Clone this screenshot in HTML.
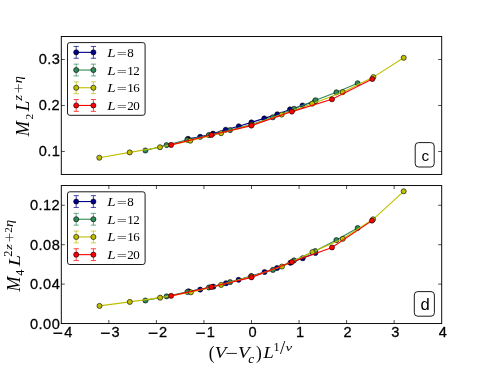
<!DOCTYPE html>
<html><head><meta charset="utf-8"><title>chart</title><style>html,body{margin:0;padding:0;background:#fff;}svg{display:block;will-change:transform;}</style></head><body>
<svg width="491" height="368" viewBox="0 0 491 368">
<rect width="491" height="368" fill="#fff"/>
<g fill="#00008b" stroke="#000" stroke-width="0.6">
<polyline fill="none" stroke="#00008b" stroke-width="1.1" points="188,138.8 200.2,136.8 213,133.6 225.7,129.7 238.8,126.3 251.45,122.4 264.3,118.4 277.3,114.3 290,109.4 302.5,105.5 315,101.3"/>
<circle cx="188" cy="138.8" r="2.55"/>
<circle cx="200.2" cy="136.8" r="2.55"/>
<circle cx="213" cy="133.6" r="2.55"/>
<circle cx="225.7" cy="129.7" r="2.55"/>
<circle cx="238.8" cy="126.3" r="2.55"/>
<circle cx="251.45" cy="122.4" r="2.55"/>
<circle cx="264.3" cy="118.4" r="2.55"/>
<circle cx="277.3" cy="114.3" r="2.55"/>
<circle cx="290" cy="109.4" r="2.55"/>
<circle cx="302.5" cy="105.5" r="2.55"/>
<circle cx="315" cy="101.3" r="2.55"/>
</g>
<g fill="#2e8b57" stroke="#000" stroke-width="0.6">
<polyline fill="none" stroke="#2e8b57" stroke-width="1.1" points="145.4,150.5 166.6,145.1 187.3,139.8 208.9,135 230.1,130.1 251.6,124.6 272.8,117.3 294,108.8 315.55,100.2 336.4,92.3 357.65,83.25"/>
<circle cx="145.4" cy="150.5" r="2.55"/>
<circle cx="166.6" cy="145.1" r="2.55"/>
<circle cx="187.3" cy="139.8" r="2.55"/>
<circle cx="208.9" cy="135" r="2.55"/>
<circle cx="230.1" cy="130.1" r="2.55"/>
<circle cx="251.6" cy="124.6" r="2.55"/>
<circle cx="272.8" cy="117.3" r="2.55"/>
<circle cx="294" cy="108.8" r="2.55"/>
<circle cx="315.55" cy="100.2" r="2.55"/>
<circle cx="336.4" cy="92.3" r="2.55"/>
<circle cx="357.65" cy="83.25" r="2.55"/>
</g>
<g fill="#bfbf00" stroke="#000" stroke-width="0.6">
<polyline fill="none" stroke="#bfbf00" stroke-width="1.1" points="99.3,157.7 129.7,152.4 160,147.2 190.3,140.7 221.1,133.2 251.6,124.9 281.7,114.6 312.2,103.65 342.7,92.15 373.4,77.1 403.7,57.8"/>
<circle cx="99.3" cy="157.7" r="2.55"/>
<circle cx="129.7" cy="152.4" r="2.55"/>
<circle cx="160" cy="147.2" r="2.55"/>
<circle cx="190.3" cy="140.7" r="2.55"/>
<circle cx="221.1" cy="133.2" r="2.55"/>
<circle cx="251.6" cy="124.9" r="2.55"/>
<circle cx="281.7" cy="114.6" r="2.55"/>
<circle cx="312.2" cy="103.65" r="2.55"/>
<circle cx="342.7" cy="92.15" r="2.55"/>
<circle cx="373.4" cy="77.1" r="2.55"/>
<circle cx="403.7" cy="57.8" r="2.55"/>
</g>
<g fill="#ff0000" stroke="#000" stroke-width="0.6">
<polyline fill="none" stroke="#ff0000" stroke-width="1.1" points="171.1,144.9 211.3,135 251.3,125.6 291.85,111.6 332,99.3 372.3,79"/>
<circle cx="171.1" cy="144.9" r="2.55"/>
<circle cx="211.3" cy="135" r="2.55"/>
<circle cx="251.3" cy="125.6" r="2.55"/>
<circle cx="291.85" cy="111.6" r="2.55"/>
<circle cx="332" cy="99.3" r="2.55"/>
<circle cx="372.3" cy="79" r="2.55"/>
</g>
<rect x="61.3" y="36.5" width="380.4" height="137.95" fill="none" stroke="#000" stroke-width="0.95"/>
<text x="42.379 51.812 56.632" transform="matrix(0.9125 0 0 0.9125 0 156.41)" font-family="Liberation Sans, sans-serif" font-size="16" stroke="#000" stroke-width="0.29">0.1</text>
<text x="42.379 51.812 56.407" transform="matrix(0.9125 0 0 0.9125 0 110.42)" font-family="Liberation Sans, sans-serif" font-size="16" stroke="#000" stroke-width="0.29">0.2</text>
<text x="42.379 51.812 56.649" transform="matrix(0.9125 0 0 0.9125 0 64.44)" font-family="Liberation Sans, sans-serif" font-size="16" stroke="#000" stroke-width="0.29">0.3</text>
<path d="M61.3 151.46h3.5M441.7 151.46h-3.5M61.3 105.47h3.5M441.7 105.47h-3.5M61.3 59.49h3.5M441.7 59.49h-3.5" stroke="#000" stroke-width="0.7" fill="none"/>
<rect x="67.5" y="42.6" width="77.6" height="72.7" rx="2.3" ry="2.3" fill="#fff" stroke="#000" stroke-width="0.9"/>
<path d="M76.2 46.45V58.25M73.6 46.45h5.2M73.6 58.25h5.2M93.4 46.45V58.25M90.8 46.45h5.2M90.8 58.25h5.2" stroke="#00008b" stroke-width="0.8" stroke-opacity="0.9" fill="none"/>
<g fill="#00008b" stroke="#000" stroke-width="0.6"><line x1="76.2" y1="52.35" x2="93.4" y2="52.35" stroke="#00008b" stroke-width="1.1"/><circle cx="76.2" cy="52.35" r="2.55"/><circle cx="93.4" cy="52.35" r="2.55"/></g>
<text transform="matrix(0.9353 0 0 0.8429 107.23 56.8)" font-family="Liberation Serif, serif" font-size="16" font-style="italic">L</text>
<text transform="matrix(1.1200 0 0 0.6471 116.76 56.8)" font-family="Liberation Serif, serif" font-size="16">=</text>
<text transform="matrix(0.8125 0 0 0.8125 127.2 56.85)" font-family="Liberation Serif, serif" font-size="16">8</text>
<path d="M76.2 64.15V75.95M73.6 64.15h5.2M73.6 75.95h5.2M93.4 64.15V75.95M90.8 64.15h5.2M90.8 75.95h5.2" stroke="#2e8b57" stroke-width="0.8" stroke-opacity="0.9" fill="none"/>
<g fill="#2e8b57" stroke="#000" stroke-width="0.6"><line x1="76.2" y1="70.05" x2="93.4" y2="70.05" stroke="#2e8b57" stroke-width="1.1"/><circle cx="76.2" cy="70.05" r="2.55"/><circle cx="93.4" cy="70.05" r="2.55"/></g>
<text transform="matrix(0.9353 0 0 0.8429 107.23 74.5)" font-family="Liberation Serif, serif" font-size="16" font-style="italic">L</text>
<text transform="matrix(1.1200 0 0 0.6471 116.76 74.5)" font-family="Liberation Serif, serif" font-size="16">=</text>
<text transform="matrix(0.8125 0 0 0.8125 127.2 74.55)" font-family="Liberation Serif, serif" font-size="16">1</text>
<text transform="matrix(0.8125 0 0 0.8125 133.2 74.55)" font-family="Liberation Serif, serif" font-size="16">2</text>
<path d="M76.2 81.85V93.65M73.6 81.85h5.2M73.6 93.65h5.2M93.4 81.85V93.65M90.8 81.85h5.2M90.8 93.65h5.2" stroke="#bfbf00" stroke-width="0.8" stroke-opacity="0.9" fill="none"/>
<g fill="#bfbf00" stroke="#000" stroke-width="0.6"><line x1="76.2" y1="87.75" x2="93.4" y2="87.75" stroke="#bfbf00" stroke-width="1.1"/><circle cx="76.2" cy="87.75" r="2.55"/><circle cx="93.4" cy="87.75" r="2.55"/></g>
<text transform="matrix(0.9353 0 0 0.8429 107.23 92.2)" font-family="Liberation Serif, serif" font-size="16" font-style="italic">L</text>
<text transform="matrix(1.1200 0 0 0.6471 116.76 92.2)" font-family="Liberation Serif, serif" font-size="16">=</text>
<text transform="matrix(0.8125 0 0 0.8125 127.2 92.25)" font-family="Liberation Serif, serif" font-size="16">1</text>
<text transform="matrix(0.8125 0 0 0.8125 133.2 92.25)" font-family="Liberation Serif, serif" font-size="16">6</text>
<path d="M76.2 99.55V111.35M73.6 99.55h5.2M73.6 111.35h5.2M93.4 99.55V111.35M90.8 99.55h5.2M90.8 111.35h5.2" stroke="#ff0000" stroke-width="0.8" stroke-opacity="0.9" fill="none"/>
<g fill="#ff0000" stroke="#000" stroke-width="0.6"><line x1="76.2" y1="105.45" x2="93.4" y2="105.45" stroke="#ff0000" stroke-width="1.1"/><circle cx="76.2" cy="105.45" r="2.55"/><circle cx="93.4" cy="105.45" r="2.55"/></g>
<text transform="matrix(0.9353 0 0 0.8429 107.23 109.9)" font-family="Liberation Serif, serif" font-size="16" font-style="italic">L</text>
<text transform="matrix(1.1200 0 0 0.6471 116.76 109.9)" font-family="Liberation Serif, serif" font-size="16">=</text>
<text transform="matrix(0.8125 0 0 0.8125 127.2 109.95)" font-family="Liberation Serif, serif" font-size="16">2</text>
<text transform="matrix(0.8125 0 0 0.8125 133.2 109.95)" font-family="Liberation Serif, serif" font-size="16">0</text>
<g fill="#00008b" stroke="#000" stroke-width="0.6">
<polyline fill="none" stroke="#00008b" stroke-width="1.1" points="188.6,291.3 200.2,289.6 213.4,286.6 225.95,283.25 238.55,279.8 251.2,276.1 264.55,272 277.05,268 290.4,262.8 302.7,258.25 315.4,252.9"/>
<circle cx="188.6" cy="291.3" r="2.55"/>
<circle cx="200.2" cy="289.6" r="2.55"/>
<circle cx="213.4" cy="286.6" r="2.55"/>
<circle cx="225.95" cy="283.25" r="2.55"/>
<circle cx="238.55" cy="279.8" r="2.55"/>
<circle cx="251.2" cy="276.1" r="2.55"/>
<circle cx="264.55" cy="272" r="2.55"/>
<circle cx="277.05" cy="268" r="2.55"/>
<circle cx="290.4" cy="262.8" r="2.55"/>
<circle cx="302.7" cy="258.25" r="2.55"/>
<circle cx="315.4" cy="252.9" r="2.55"/>
</g>
<g fill="#2e8b57" stroke="#000" stroke-width="0.6">
<polyline fill="none" stroke="#2e8b57" stroke-width="1.1" points="145.4,300.5 166.6,296.35 187.4,291.9 208.9,287.5 230.1,282.1 251.6,276.7 272.9,269.9 294,260.4 315.3,251.05 336.4,240.1 357.65,228"/>
<circle cx="145.4" cy="300.5" r="2.55"/>
<circle cx="166.6" cy="296.35" r="2.55"/>
<circle cx="187.4" cy="291.9" r="2.55"/>
<circle cx="208.9" cy="287.5" r="2.55"/>
<circle cx="230.1" cy="282.1" r="2.55"/>
<circle cx="251.6" cy="276.7" r="2.55"/>
<circle cx="272.9" cy="269.9" r="2.55"/>
<circle cx="294" cy="260.4" r="2.55"/>
<circle cx="315.3" cy="251.05" r="2.55"/>
<circle cx="336.4" cy="240.1" r="2.55"/>
<circle cx="357.65" cy="228" r="2.55"/>
</g>
<g fill="#bfbf00" stroke="#000" stroke-width="0.6">
<polyline fill="none" stroke="#bfbf00" stroke-width="1.1" points="99.5,305.9 129.8,301.9 160.15,297.65 190.9,292.3 221.1,284.9 251.4,276.4 281.95,266.55 312.45,252.1 342.85,238.8 373.1,219.3 403.7,191.3"/>
<circle cx="99.5" cy="305.9" r="2.55"/>
<circle cx="129.8" cy="301.9" r="2.55"/>
<circle cx="160.15" cy="297.65" r="2.55"/>
<circle cx="190.9" cy="292.3" r="2.55"/>
<circle cx="221.1" cy="284.9" r="2.55"/>
<circle cx="251.4" cy="276.4" r="2.55"/>
<circle cx="281.95" cy="266.55" r="2.55"/>
<circle cx="312.45" cy="252.1" r="2.55"/>
<circle cx="342.85" cy="238.8" r="2.55"/>
<circle cx="373.1" cy="219.3" r="2.55"/>
<circle cx="403.7" cy="191.3" r="2.55"/>
</g>
<g fill="#ff0000" stroke="#000" stroke-width="0.6">
<polyline fill="none" stroke="#ff0000" stroke-width="1.1" points="171.1,295.85 211.3,287 251.45,277.35 291.85,262.05 332,247.45 372,220.6"/>
<circle cx="171.1" cy="295.85" r="2.55"/>
<circle cx="211.3" cy="287" r="2.55"/>
<circle cx="251.45" cy="277.35" r="2.55"/>
<circle cx="291.85" cy="262.05" r="2.55"/>
<circle cx="332" cy="247.45" r="2.55"/>
<circle cx="372" cy="220.6" r="2.55"/>
</g>
<rect x="61.3" y="185.55" width="380.4" height="138" fill="none" stroke="#000" stroke-width="0.95"/>
<text x="32.868 42.301 47.13 56.641" transform="matrix(0.9125 0 0 0.9125 0 328.5)" font-family="Liberation Sans, sans-serif" font-size="16" stroke="#000" stroke-width="0.29">0.00</text>
<text x="32.868 42.301 47.13 56.766" transform="matrix(0.9125 0 0 0.9125 0 289.07)" font-family="Liberation Sans, sans-serif" font-size="16" stroke="#000" stroke-width="0.29">0.04</text>
<text x="32.868 42.301 47.13 56.766" transform="matrix(0.9125 0 0 0.9125 0 249.64)" font-family="Liberation Sans, sans-serif" font-size="16" stroke="#000" stroke-width="0.29">0.08</text>
<text x="32.868 42.301 47.122 56.407" transform="matrix(0.9125 0 0 0.9125 0 210.21)" font-family="Liberation Sans, sans-serif" font-size="16" stroke="#000" stroke-width="0.29">0.12</text>
<path d="M61.3 284.12h3.5M441.7 284.12h-3.5M61.3 244.69h3.5M441.7 244.69h-3.5M61.3 205.26h3.5M441.7 205.26h-3.5" stroke="#000" stroke-width="0.7" fill="none"/>
<text transform="matrix(0.9125 0 0 0.9125 0 337.2)" font-family="Liberation Sans, sans-serif" font-size="16" stroke="#000" stroke-width="0.29"><tspan x="57.87" dy="1.763" font-size="19.152">−</tspan><tspan x="70.304" dy="-1.763">4</tspan></text>
<text transform="matrix(0.9125 0 0 0.9125 0 337.2)" font-family="Liberation Sans, sans-serif" font-size="16" stroke="#000" stroke-width="0.29"><tspan x="109.979" dy="1.763" font-size="19.152">−</tspan><tspan x="122.297" dy="-1.763">3</tspan></text>
<text transform="matrix(0.9125 0 0 0.9125 0 337.2)" font-family="Liberation Sans, sans-serif" font-size="16" stroke="#000" stroke-width="0.29"><tspan x="162.089" dy="1.763" font-size="19.152">−</tspan><tspan x="174.164" dy="-1.763">2</tspan></text>
<text transform="matrix(0.9125 0 0 0.9125 0 337.2)" font-family="Liberation Sans, sans-serif" font-size="16" stroke="#000" stroke-width="0.29"><tspan x="214.198" dy="1.763" font-size="19.152">−</tspan><tspan x="226.499" dy="-1.763">1</tspan></text>
<text x="272.355" transform="matrix(0.9125 0 0 0.9125 0 337.2)" font-family="Liberation Sans, sans-serif" font-size="16" stroke="#000" stroke-width="0.29">0</text>
<text x="324.456" transform="matrix(0.9125 0 0 0.9125 0 337.2)" font-family="Liberation Sans, sans-serif" font-size="16" stroke="#000" stroke-width="0.29">1</text>
<text x="376.34" transform="matrix(0.9125 0 0 0.9125 0 337.2)" font-family="Liberation Sans, sans-serif" font-size="16" stroke="#000" stroke-width="0.29">2</text>
<text x="428.692" transform="matrix(0.9125 0 0 0.9125 0 337.2)" font-family="Liberation Sans, sans-serif" font-size="16" stroke="#000" stroke-width="0.29">3</text>
<text x="480.918" transform="matrix(0.9125 0 0 0.9125 0 337.2)" font-family="Liberation Sans, sans-serif" font-size="16" stroke="#000" stroke-width="0.29">4</text>
<path d="M108.85 323.55v-3.5M108.85 185.55v3.5M156.4 323.55v-3.5M156.4 185.55v3.5M203.95 323.55v-3.5M203.95 185.55v3.5M251.5 323.55v-3.5M251.5 185.55v3.5M299.05 323.55v-3.5M299.05 185.55v3.5M346.6 323.55v-3.5M346.6 185.55v3.5M394.15 323.55v-3.5M394.15 185.55v3.5" stroke="#000" stroke-width="0.7" fill="none"/>
<rect x="67.5" y="191.8" width="77.6" height="72.7" rx="2.3" ry="2.3" fill="#fff" stroke="#000" stroke-width="0.9"/>
<path d="M76.2 195.65V207.45M73.6 195.65h5.2M73.6 207.45h5.2M93.4 195.65V207.45M90.8 195.65h5.2M90.8 207.45h5.2" stroke="#00008b" stroke-width="0.8" stroke-opacity="0.9" fill="none"/>
<g fill="#00008b" stroke="#000" stroke-width="0.6"><line x1="76.2" y1="201.55" x2="93.4" y2="201.55" stroke="#00008b" stroke-width="1.1"/><circle cx="76.2" cy="201.55" r="2.55"/><circle cx="93.4" cy="201.55" r="2.55"/></g>
<text transform="matrix(0.9353 0 0 0.8429 107.23 206)" font-family="Liberation Serif, serif" font-size="16" font-style="italic">L</text>
<text transform="matrix(1.1200 0 0 0.6471 116.76 206)" font-family="Liberation Serif, serif" font-size="16">=</text>
<text transform="matrix(0.8125 0 0 0.8125 127.2 206.05)" font-family="Liberation Serif, serif" font-size="16">8</text>
<path d="M76.2 213.35V225.15M73.6 213.35h5.2M73.6 225.15h5.2M93.4 213.35V225.15M90.8 213.35h5.2M90.8 225.15h5.2" stroke="#2e8b57" stroke-width="0.8" stroke-opacity="0.9" fill="none"/>
<g fill="#2e8b57" stroke="#000" stroke-width="0.6"><line x1="76.2" y1="219.25" x2="93.4" y2="219.25" stroke="#2e8b57" stroke-width="1.1"/><circle cx="76.2" cy="219.25" r="2.55"/><circle cx="93.4" cy="219.25" r="2.55"/></g>
<text transform="matrix(0.9353 0 0 0.8429 107.23 223.7)" font-family="Liberation Serif, serif" font-size="16" font-style="italic">L</text>
<text transform="matrix(1.1200 0 0 0.6471 116.76 223.7)" font-family="Liberation Serif, serif" font-size="16">=</text>
<text transform="matrix(0.8125 0 0 0.8125 127.2 223.75)" font-family="Liberation Serif, serif" font-size="16">1</text>
<text transform="matrix(0.8125 0 0 0.8125 133.2 223.75)" font-family="Liberation Serif, serif" font-size="16">2</text>
<path d="M76.2 231.05V242.85M73.6 231.05h5.2M73.6 242.85h5.2M93.4 231.05V242.85M90.8 231.05h5.2M90.8 242.85h5.2" stroke="#bfbf00" stroke-width="0.8" stroke-opacity="0.9" fill="none"/>
<g fill="#bfbf00" stroke="#000" stroke-width="0.6"><line x1="76.2" y1="236.95" x2="93.4" y2="236.95" stroke="#bfbf00" stroke-width="1.1"/><circle cx="76.2" cy="236.95" r="2.55"/><circle cx="93.4" cy="236.95" r="2.55"/></g>
<text transform="matrix(0.9353 0 0 0.8429 107.23 241.4)" font-family="Liberation Serif, serif" font-size="16" font-style="italic">L</text>
<text transform="matrix(1.1200 0 0 0.6471 116.76 241.4)" font-family="Liberation Serif, serif" font-size="16">=</text>
<text transform="matrix(0.8125 0 0 0.8125 127.2 241.45)" font-family="Liberation Serif, serif" font-size="16">1</text>
<text transform="matrix(0.8125 0 0 0.8125 133.2 241.45)" font-family="Liberation Serif, serif" font-size="16">6</text>
<path d="M76.2 248.75V260.55M73.6 248.75h5.2M73.6 260.55h5.2M93.4 248.75V260.55M90.8 248.75h5.2M90.8 260.55h5.2" stroke="#ff0000" stroke-width="0.8" stroke-opacity="0.9" fill="none"/>
<g fill="#ff0000" stroke="#000" stroke-width="0.6"><line x1="76.2" y1="254.65" x2="93.4" y2="254.65" stroke="#ff0000" stroke-width="1.1"/><circle cx="76.2" cy="254.65" r="2.55"/><circle cx="93.4" cy="254.65" r="2.55"/></g>
<text transform="matrix(0.9353 0 0 0.8429 107.23 259.1)" font-family="Liberation Serif, serif" font-size="16" font-style="italic">L</text>
<text transform="matrix(1.1200 0 0 0.6471 116.76 259.1)" font-family="Liberation Serif, serif" font-size="16">=</text>
<text transform="matrix(0.8125 0 0 0.8125 127.2 259.15)" font-family="Liberation Serif, serif" font-size="16">2</text>
<text transform="matrix(0.8125 0 0 0.8125 133.2 259.15)" font-family="Liberation Serif, serif" font-size="16">0</text>
<rect x="415.2" y="142.6" width="19" height="24.4" rx="3.4" fill="#fff" stroke="#000" stroke-width="0.9"/>
<text transform="matrix(0.9655 0 0 0.9611 421.42 160.61)" font-family="Liberation Sans, sans-serif" font-size="16">c</text>
<rect x="414.3" y="291.6" width="20.1" height="24.6" rx="3.4" fill="#fff" stroke="#000" stroke-width="0.9"/>
<text transform="matrix(1.0400 0 0 0.9917 420.58 309.85)" font-family="Liberation Sans, sans-serif" font-size="16">d</text>
<text transform="matrix(1.0889 0 0 1.1932 208.86 358.62)" font-family="Liberation Serif, serif" font-size="16">(</text>
<text transform="matrix(1.1814 0 0 1.0791 214.81 358.03)" font-family="Liberation Serif, serif" font-size="16" font-style="italic">V</text>
<text transform="matrix(1.4133 0 0 1.1000 225.14 359.17)" font-family="Liberation Serif, serif" font-size="16">−</text>
<text transform="matrix(1.1907 0 0 1.0884 238.11 358.13)" font-family="Liberation Serif, serif" font-size="16" font-style="italic">V</text>
<text transform="matrix(0.8444 0 0 0.8250 248.19 362.99)" font-family="Liberation Serif, serif" font-size="16" font-style="italic">c</text>
<text transform="matrix(1.0824 0 0 1.2000 256.06 358.7)" font-family="Liberation Serif, serif" font-size="16">)</text>
<text transform="matrix(1.1529 0 0 1.0571 263.59 358)" font-family="Liberation Serif, serif" font-size="16" font-style="italic">L</text>
<text transform="matrix(0.7667 0 0 0.7814 273.54 350.8)" font-family="Liberation Serif, serif" font-size="16">1</text>
<text transform="matrix(1.1778 0 0 1.1636 280 353.51)" font-family="Liberation Serif, serif" font-size="16">/</text>
<text transform="matrix(0.9379 0 0 0.6710 285.5 350.63)" font-family="Liberation Serif, serif" font-size="16" font-style="italic">ν</text>
<g transform="rotate(-90)">
<text transform="matrix(1.1379 0 0 1.1238 -136.32 29.1)" font-family="Liberation Serif, serif" font-size="16" font-style="italic">M</text>
<text transform="matrix(0.7111 0 0 0.6698 -119.56 32.5)" font-family="Liberation Serif, serif" font-size="16">2</text>
<text transform="matrix(1.1882 0 0 1.1238 -111.3 29.1)" font-family="Liberation Serif, serif" font-size="16" font-style="italic">L</text>
<text transform="matrix(0.9385 0 0 0.7867 -100.67 21.8)" font-family="Liberation Serif, serif" font-size="16" font-style="italic">z</text>
<text transform="matrix(1.0933 0 0 1.0065 -93.32 23.51)" font-family="Liberation Serif, serif" font-size="16" fill-opacity="0.72">+</text>
<text transform="matrix(0.9000 0 0 0.7644 -83.25 21.82)" font-family="Liberation Serif, serif" font-size="16" font-style="italic">η</text>
</g>
<g transform="rotate(-90)">
<text transform="matrix(1.1241 0 0 1.1143 -291.52 20.3)" font-family="Liberation Serif, serif" font-size="16" font-style="italic">M</text>
<text transform="matrix(0.7600 0 0 0.7163 -275.79 23.8)" font-family="Liberation Serif, serif" font-size="16">4</text>
<text transform="matrix(1.2824 0 0 1.0762 -266.28 20.3)" font-family="Liberation Serif, serif" font-size="16" font-style="italic">L</text>
<text transform="matrix(0.7704 0 0 0.7349 -256.69 12.3)" font-family="Liberation Serif, serif" font-size="16">2</text>
<text transform="matrix(0.9538 0 0 0.7067 -249.96 12.3)" font-family="Liberation Serif, serif" font-size="16" font-style="italic">z</text>
<text transform="matrix(1.0933 0 0 1.0710 -242.62 14.51)" font-family="Liberation Serif, serif" font-size="16" fill-opacity="0.72">+</text>
<text transform="matrix(0.6963 0 0 0.7070 -232.75 12.3)" font-family="Liberation Serif, serif" font-size="16">2</text>
<text transform="matrix(0.9000 0 0 0.7644 -226.95 12.72)" font-family="Liberation Serif, serif" font-size="16" font-style="italic">η</text>
</g>
</svg>
</body></html>
